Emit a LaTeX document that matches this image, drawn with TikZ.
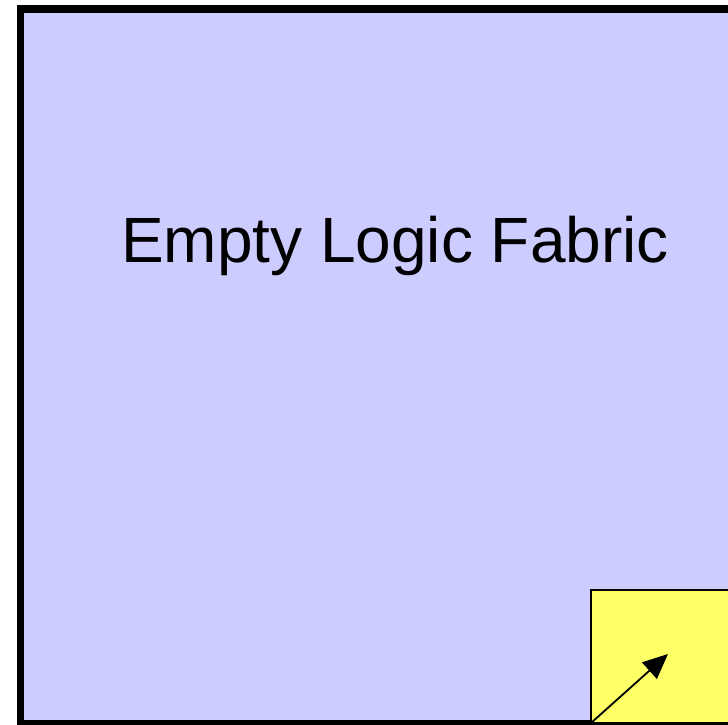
\documentclass[tikz,border=0pt]{standalone}
\usepackage{fontspec}
\setmainfont{Liberation Sans}
\usetikzlibrary{arrows.meta}
\definecolor{fabricblue}{HTML}{CCCCFF}
\definecolor{moduleyellow}{HTML}{FFFF66}

\begin{document}
\begin{tikzpicture}[x=1pt,y=1pt,line cap=butt,line join=miter]
  \useasboundingbox (0,0) rectangle (728,724);
  \clip (0,0) rectangle (728,724);
  % fabric
  \draw[fill=fabricblue,line width=7.5pt] (20.5,0.5) rectangle (760,715);
  \node[font=\fontsize{64}{68}\selectfont,anchor=base] (label) at (395,461) {Empty Logic Fabric};
  % module in the corner
  \draw[fill=moduleyellow,line width=1.3pt] (591,1.5) rectangle (760,134);
  \draw[line width=7.5pt] (20.5,0.5) -- (591,0.5);
  \coordinate (corner) at (591,1);
  \coordinate (growth) at (668,70);
  \draw[line width=1.8pt,-{Triangle[length=25pt,width=22pt]}] (corner) -- (growth);
\end{tikzpicture}
\end{document}
